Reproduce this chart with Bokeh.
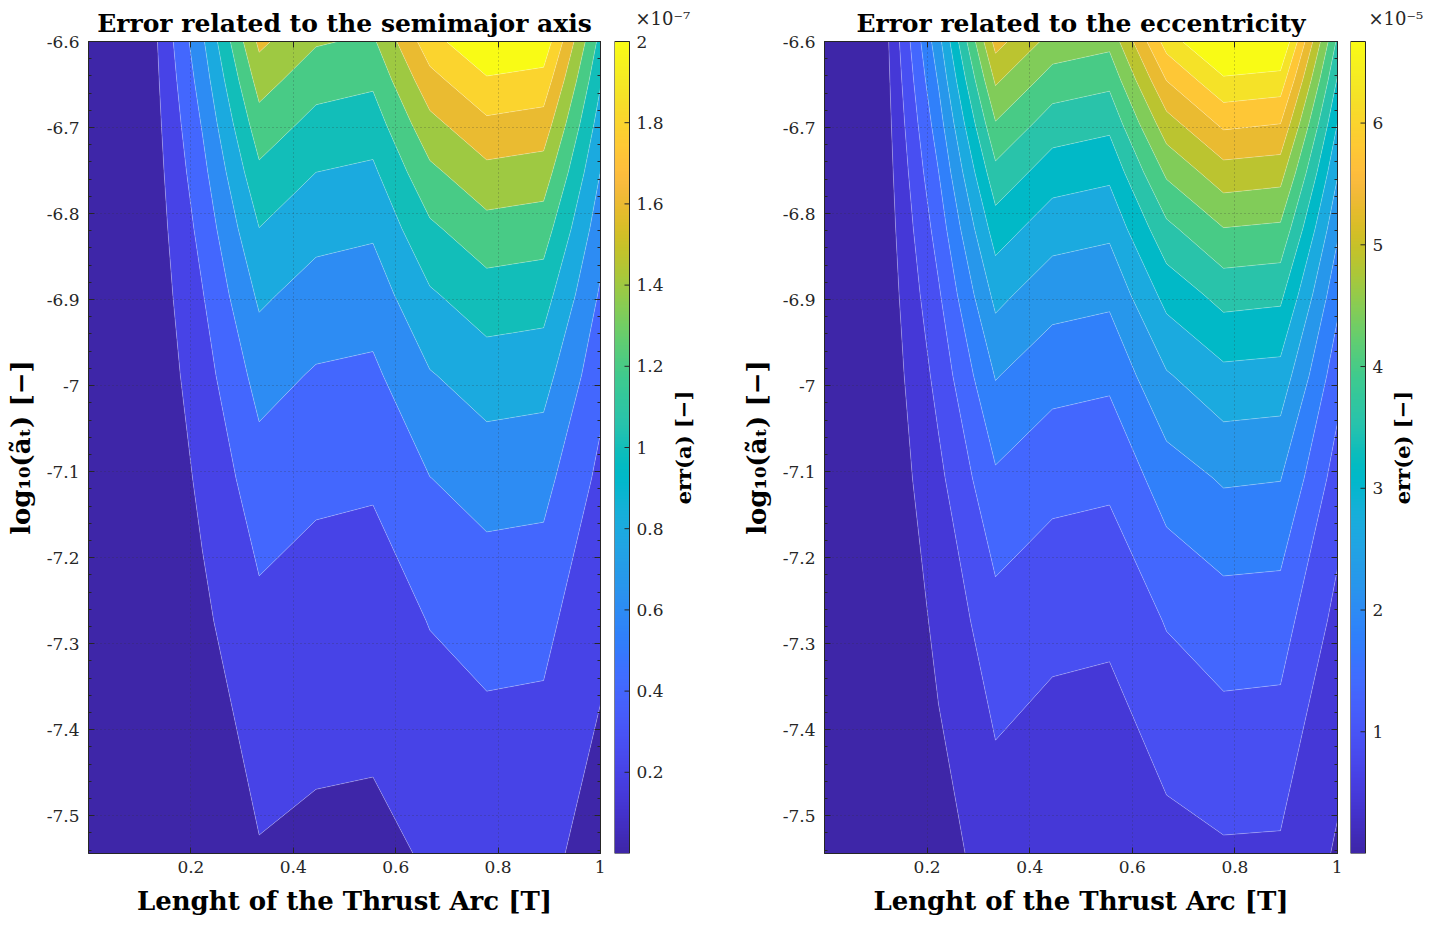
import numpy as np
from bokeh.plotting import figure
from bokeh.layouts import row
from bokeh.models import LinearColorMapper, FixedTicker, LinearAxis, Range1d
from bokeh.core.properties import value
from bokeh.embed import file_html
from bokeh.resources import INLINE

# ---------------- data ----------------
# length of the thrust arc [T] (grid columns)
thrust_arc = [0.0, 0.1111, 0.2222, 0.3333, 0.4444, 0.5556, 0.6667, 0.7778, 0.8889, 1.0]
# log10 of the thrust acceleration (grid rows, bottom to top)
log10_at = [-7.5439, -7.2732, -7.1077, -6.9881, -6.8945, -6.8175, -6.7521, -6.6953, -6.6450, -6.6000]

# err(a) in units of 1e-7 ; rows follow log10_at, columns follow thrust_arc
err_a = [
    [0, 0.0054, 0.0872, 0.1872, 0.1615, 0.1558, 0.2186, 0.2495, 0.2435, 0.1286],
    [0, 0.0101, 0.1626, 0.3492, 0.3012, 0.2905, 0.4078, 0.4654, 0.4542, 0.2399],
    [0, 0.0148, 0.2381, 0.5112, 0.4410, 0.4254, 0.5971, 0.6814, 0.6650, 0.3512],
    [0, 0.0195, 0.3135, 0.6732, 0.5807, 0.5602, 0.7863, 0.8973, 0.8757, 0.4625],
    [0, 0.0242, 0.3889, 0.8352, 0.7204, 0.6949, 0.9755, 1.1132, 1.0864, 0.5738],
    [0, 0.0289, 0.4644, 0.9972, 0.8602, 0.8298, 1.1647, 1.3291, 1.2972, 0.6851],
    [0, 0.0336, 0.5398, 1.1592, 0.9999, 0.9645, 1.3539, 1.5450, 1.5079, 0.7964],
    [0, 0.0383, 0.6152, 1.3212, 1.1397, 1.0993, 1.5431, 1.7609, 1.7186, 0.9077],
    [0, 0.0430, 0.6907, 1.4833, 1.2794, 1.2342, 1.7323, 1.9769, 1.9294, 1.0190],
    [0, 0.0477, 0.7661, 1.6453, 1.4192, 1.3690, 1.9216, 2.1929, 2.1401, 1.1304],
]

# err(e) in units of 1e-5 ; rows follow log10_at, columns follow thrust_arc
err_e = [
    [0, 0.0149, 0.2572, 0.5630, 0.4830, 0.4673, 0.6573, 0.7488, 0.7374, 0.3540],
    [0, 0.0277, 0.4798, 1.0502, 0.9009, 0.8716, 1.2261, 1.3967, 1.3754, 0.6770],
    [0, 0.0406, 0.7025, 1.5376, 1.3191, 1.2761, 1.7952, 2.0449, 2.0137, 1.0150],
    [0, 0.0534, 0.9250, 2.0248, 1.7370, 1.6805, 2.3639, 2.6928, 2.6517, 1.3570],
    [0, 0.0663, 1.1476, 2.5120, 2.1549, 2.0848, 2.9327, 3.3408, 3.2898, 1.7090],
    [0, 0.0792, 1.3703, 2.9993, 2.5730, 2.4893, 3.5018, 3.9890, 3.9281, 2.0710],
    [0, 0.0920, 1.5928, 3.4865, 2.9910, 2.8936, 4.0705, 4.6369, 4.5661, 2.4330],
    [0, 0.1049, 1.8154, 3.9737, 3.4089, 3.2980, 4.6393, 5.2848, 5.2041, 2.7940],
    [0, 0.1178, 2.0381, 4.4611, 3.8270, 3.7025, 5.2084, 5.9330, 5.8424, 3.1590],
    [0, 0.1306, 2.2607, 4.9484, 4.2451, 4.1070, 5.7774, 6.5812, 6.4807, 3.5170],
]

levels_a = [0.2, 0.4, 0.6, 0.8, 1.0, 1.2, 1.4, 1.6, 1.8, 2.0]
levels_e = [0.4, 0.8, 1.2, 1.6, 2.0, 2.4, 2.8, 3.2, 3.6, 4.0, 4.4, 4.8, 5.2, 5.6, 6.0]

x_ticks = [0.2, 0.4, 0.6, 0.8, 1.0]
x_labels = ["0.2", "0.4", "0.6", "0.8", "1"]
y_ticks = [-7.5, -7.4, -7.3, -7.2, -7.1, -7.0, -6.9, -6.8, -6.7, -6.6]
y_labels = ["-7.5", "-7.4", "-7.3", "-7.2", "-7.1", "-7", "-6.9", "-6.8", "-6.7", "-6.6"]

cbar_ticks_a = [0.2, 0.4, 0.6, 0.8, 1.0, 1.2, 1.4, 1.6, 1.8, 2.0]
cbar_labels_a = ["0.2", "0.4", "0.6", "0.8", "1", "1.2", "1.4", "1.6", "1.8", "2"]
cbar_ticks_e = [1.0, 2.0, 3.0, 4.0, 5.0, 6.0]
cbar_labels_e = ["1", "2", "3", "4", "5", "6"]
cbar_lim_a = (0.0, 2.0)
cbar_lim_e = (0.0, 6.67)

# ---------------- style ----------------
PARULA = ["#3e26a8", "#402ab4", "#422ec0", "#4332cb", "#4537d5", "#463cde", "#4741e5", "#4847eb",
          "#484df0", "#4852f4", "#4758f8", "#465efb", "#4563fd", "#4269fe", "#3e6fff", "#3875fe",
          "#327cfc", "#2f81fa", "#2e87f7", "#2d8cf3", "#2b91ef", "#2797eb", "#259be8", "#23a0e5",
          "#20a5e3", "#1ca9e0", "#18addb", "#12b1d6", "#08b5d0", "#01b8ca", "#02bac3", "#0bbcbc",
          "#19bfb6", "#24c2ae", "#2cc4a7", "#31c69f", "#37c897", "#3fca8e", "#4acb84", "#57cc7a",
          "#64cd6f", "#72cd64", "#81cc59", "#8fcb4e", "#9dc943", "#abc739", "#b9c431", "#c5c22a",
          "#d1bf27", "#dcbd29", "#e6bb2d", "#f0ba36", "#f8ba3d", "#febe3c", "#fec338", "#fec934",
          "#fccf30", "#fad62d", "#f7dc2a", "#f5e327", "#f5e924", "#f6ef20", "#f7f51b", "#f9fb15"]


def _rgb(h):
    return tuple(int(h[k:k + 2], 16) for k in (1, 3, 5))


def parula(f):
    f = min(max(f, 0.0), 1.0) * (len(PARULA) - 1)
    i = min(int(np.floor(f)), len(PARULA) - 2)
    t = f - i
    c0, c1 = _rgb(PARULA[i]), _rgb(PARULA[i + 1])
    return "#%02x%02x%02x" % tuple(int(round(a + (b - a) * t)) for a, b in zip(c0, c1))


PAL256 = [parula(k / 255) for k in range(256)]

FONT = "DejaVu Serif"
DARK = "#262626"
FRAME_H = 812
TOP = 41
BOTTOM = 66
BAR_W = 15
PAD_TOP = 12  # extra frame pixels above the colour bar, room for its top tick label

x_arr = np.array(thrust_arc)
y_arr = np.array(log10_at)
y_minor = [round(v, 2) for v in np.arange(-7.54, -6.595, 0.02)]


def no_frame_align(fig):
    try:
        fig.frame_align = False
    except Exception:
        pass


def main_fig(z, levels, color_top, title, left_border, frame_w):
    z = np.array(z)
    p = figure(frame_width=frame_w, frame_height=FRAME_H,
               x_range=Range1d(0, 1), y_range=Range1d(log10_at[0], log10_at[-1]),
               min_border_left=left_border, min_border_right=5,
               min_border_top=TOP, min_border_bottom=BOTTOM,
               toolbar_location=None, output_backend="svg", title=title)
    no_frame_align(p)
    lv = [-0.01] + list(levels) + [float(z.max()) + 0.5]
    colors = [parula(max(l, 0.0) / color_top) for l in lv[:-1]]
    p.contour(x_arr, y_arr, z, lv, fill_color=colors,
              line_color="white", line_alpha=0.35, line_width=0.7)

    p.title.text_font = FONT
    p.title.text_font_size = "25px"
    p.title.text_font_style = "bold"
    p.title.align = "center"
    p.title.standoff = 7
    p.title.text_color = "black"

    p.xaxis.ticker = FixedTicker(ticks=x_ticks, minor_ticks=[])
    p.yaxis.ticker = FixedTicker(ticks=y_ticks, minor_ticks=y_minor)
    p.xaxis.major_label_overrides = dict(zip(x_ticks, x_labels))
    p.yaxis.major_label_overrides = dict(zip(y_ticks, y_labels))
    p.xaxis.axis_label = "Lenght of the Thrust Arc [T]"
    p.yaxis.axis_label = "log\u2081\u2080(\u00e3\u209c) [\u2212]"
    for ax in (p.xaxis, p.yaxis):
        ax.major_tick_in = 6
        ax.major_tick_out = 0
        ax.minor_tick_in = 3
        ax.minor_tick_out = 0
        ax.axis_line_color = DARK
        ax.major_tick_line_color = DARK
        ax.minor_tick_line_color = DARK
        ax.major_label_text_font = FONT
        ax.major_label_text_font_size = "17px"
        ax.major_label_text_color = "#262626"
        ax.axis_label_text_font = FONT
        ax.axis_label_text_font_size = "26px"
        ax.axis_label_text_font_style = "bold"
        ax.axis_label_text_color = "black"
    p.xaxis.major_label_standoff = 7
    p.xaxis.axis_label_standoff = 10
    p.yaxis.major_label_standoff = 9
    p.yaxis.axis_label_standoff = 8

    # box ticks on top and right (no labels drawn)
    for loc, tk in (("above", FixedTicker(ticks=x_ticks, minor_ticks=[])),
                    ("right", FixedTicker(ticks=y_ticks, minor_ticks=y_minor))):
        ax = LinearAxis(ticker=tk, major_label_text_font_size="1px",
                        major_label_text_color=None, major_label_standoff=0,
                        major_tick_in=6, major_tick_out=0, minor_tick_in=3, minor_tick_out=0,
                        axis_line_color=DARK, major_tick_line_color=DARK,
                        minor_tick_line_color=DARK)
        p.add_layout(ax, loc)

    for g in (p.xgrid, p.ygrid):
        g.level = "overlay"
        g.grid_line_color = "#333333"
        g.grid_line_alpha = 0.45
        g.grid_line_dash = "1 3"
        g.grid_line_width = 1
    p.outline_line_color = DARK
    p.outline_line_alpha = 1.0
    p.background_fill_color = "white"
    p.border_fill_color = "white"
    return p


def cbar_fig(lim, ticks, labels, label, exp_text, left_border, width, label_x, exp_offset):
    lo, hi = lim
    unit = (hi - lo) / FRAME_H
    mapper = LinearColorMapper(palette=PAL256, low=lo, high=hi)
    cb = figure(frame_width=width, frame_height=FRAME_H + PAD_TOP,
                x_range=Range1d(0, width), y_range=Range1d(lo, hi + PAD_TOP * unit),
                min_border_left=left_border, min_border_right=0,
                min_border_top=TOP - PAD_TOP, min_border_bottom=BOTTOM,
                toolbar_location=None, output_backend="svg", title=exp_text)
    no_frame_align(cb)
    cb.axis.visible = False
    cb.xgrid.visible = False
    cb.ygrid.visible = False
    cb.outline_line_color = None
    grad = np.linspace(lo, hi, 256).reshape(256, 1)
    cb.image(image=[grad], x=0, y=lo, dw=BAR_W, dh=hi - lo, color_mapper=mapper)
    cb.quad(left=[0], right=[BAR_W], bottom=[lo], top=[hi], fill_color=None,
            line_color=DARK, line_width=1)
    n = len(ticks)
    cb.segment(x0=[BAR_W - 5] * n, x1=[BAR_W] * n, y0=ticks, y1=ticks,
               line_color=DARK, line_width=1)
    cb.text(x=[BAR_W + 7] * n, y=ticks, text=labels, text_font=value(FONT),
            text_font_size="17px", text_baseline="middle", text_align="left",
            text_color="#262626")
    cb.text(x=[label_x], y=[(lo + hi) / 2], text=[label], angle=np.pi / 2,
            text_align="center", text_baseline="middle", text_font=value(FONT),
            text_font_size="21px", text_font_style="bold", text_color="black")
    cb.title.text_font = FONT
    cb.title.text_font_size = "18px"
    cb.title.text_font_style = "normal"
    cb.title.text_color = "#262626"
    cb.title.align = "left"
    cb.title.offset = exp_offset
    cb.title.standoff = 1
    cb.border_fill_color = "white"
    cb.background_fill_color = None
    return cb


p1 = main_fig(err_a, levels_a, cbar_lim_a[1], "Error related to the semimajor axis", 88, 512)
c1 = cbar_fig(cbar_lim_a, cbar_ticks_a, cbar_labels_a, "err(a) [\u2212]",
              "\u00d710\u207b\u2077", 9, 86, 69, 21)
p2 = main_fig(err_e, levels_e, levels_e[-1], "Error related to the eccentricity", 124, 513)
c2 = cbar_fig(cbar_lim_e, cbar_ticks_e, cbar_labels_e, "err(e) [\u2212]",
              "\u00d710\u207b\u2075", 8, 86, 52, 18)

layout = row(p1, c1, p2, c2)
open("out.html", "w").write(file_html(layout, INLINE))
